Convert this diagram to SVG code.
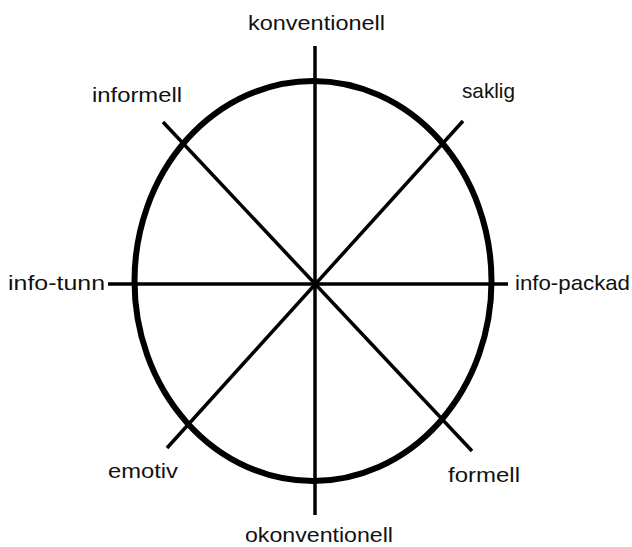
<svg xmlns="http://www.w3.org/2000/svg" width="632" height="547" viewBox="0 0 632 547">
<style>
.ax{stroke:#000;stroke-width:3.5;fill:none;stroke-linecap:butt}
.ring{stroke:#000;stroke-width:6;fill:none}
.lbl{font-family:"Liberation Sans",Arial,sans-serif;font-size:21px;fill:#111}
</style>
<rect width="632" height="547" fill="#fff"/>
<g id="circle"><ellipse class="ring" cx="313" cy="281" rx="178.5" ry="200"/></g>
<g id="connectors">
<line class="ax" x1="315" y1="46" x2="315" y2="515"/>
<line class="ax" x1="108" y1="284" x2="508" y2="284"/>
<line class="ax" x1="163" y1="122" x2="472" y2="451"/>
<line class="ax" x1="463" y1="121" x2="167" y2="448"/>
</g>
<g id="n-konventionell"><text class="lbl" x="248" y="30" textLength="137" lengthAdjust="spacingAndGlyphs">konventionell</text></g>
<g id="n-okonventionell"><text class="lbl" x="245" y="542" textLength="148" lengthAdjust="spacingAndGlyphs">okonventionell</text></g>
<g id="n-informell"><text class="lbl" x="92" y="102" textLength="90" lengthAdjust="spacingAndGlyphs">informell</text></g>
<g id="n-saklig"><text class="lbl" x="462" y="98" textLength="53" lengthAdjust="spacingAndGlyphs">saklig</text></g>
<g id="n-info-tunn"><text class="lbl" x="8" y="290" textLength="97" lengthAdjust="spacingAndGlyphs">info-tunn</text></g>
<g id="n-info-packad"><text class="lbl" x="515" y="290" textLength="115" lengthAdjust="spacingAndGlyphs">info-packad</text></g>
<g id="n-emotiv"><text class="lbl" x="108" y="478" textLength="70" lengthAdjust="spacingAndGlyphs">emotiv</text></g>
<g id="n-formell"><text class="lbl" x="448" y="482" textLength="72" lengthAdjust="spacingAndGlyphs">formell</text></g>
</svg>
